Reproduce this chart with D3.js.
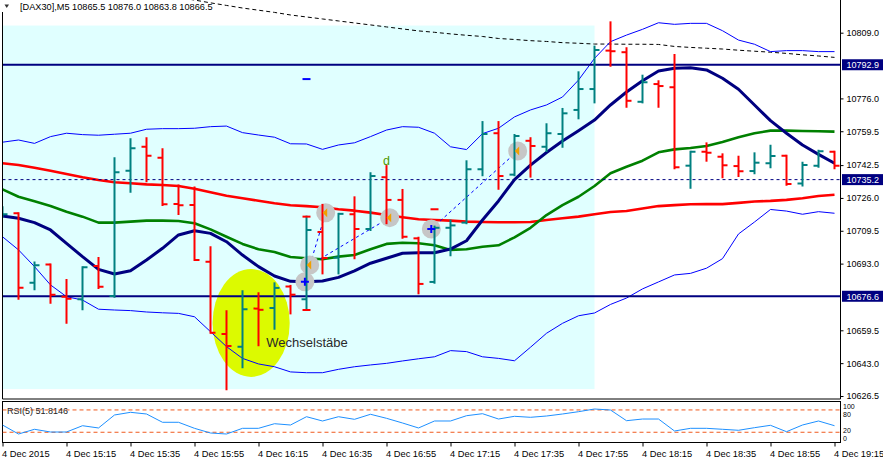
<!DOCTYPE html>
<html><head><meta charset="utf-8">
<script src="https://cdn.jsdelivr.net/npm/d3@7"></script>
<style>
html,body{margin:0;padding:0;background:#fff;}
svg{display:block;}
text{font-family:"Liberation Sans",Arial,sans-serif;}
</style></head><body>
<svg id="chart" width="883" height="461"></svg>
<script>
// ---------- data ----------
const header = "[DAX30],M5  10865.5 10876.0 10863.8 10866.5";
const rsiLabel = "RSI(5) 51.8146";
const timeLabels = ["4 Dec 2015","4 Dec 15:15","4 Dec 15:35","4 Dec 15:55","4 Dec 16:15","4 Dec 16:35","4 Dec 16:55","4 Dec 17:15","4 Dec 17:35","4 Dec 17:55","4 Dec 18:15","4 Dec 18:35","4 Dec 18:55","4 Dec 19:15"];
const timeLabelBars = [0,4,8,12,16,20,24,28,32,36,40,44,48,52];
const priceTicks = [10809.0,10776.0,10759.5,10742.5,10726.0,10709.5,10693.0,10659.5,10643.0,10626.5];
const levelLines = [10792.9,10676.6];
const dashLevel = 10735.2;
const rsiLevels = [80,20];
const rsiTicks = [100,80,20,0];

const open  = [10716.6,10718.3,10683.4,10692.5,10676.4,10675.1,10691.8,10676.7,10739.7,10751.7,10746.2,10723.0,10722.4,10694.0,10657.6,10651.3,10670.4,10670.7,10681.5,10675.1,10708.9,10696.0,10717.8,10710.4,10736.4,10725.0,10705.7,10683.8,10711.0,10713.6,10740.4,10758.5,10737.7,10754.7,10751.7,10758.1,10770.2,10780.7,10800.0,10799.2,10774.3,10783.2,10781.6,10742.2,10749.2,10746.7,10742.0,10739.5,10743.4,10747.2,10733.3,10742.2,10749.2];
const high  = [10721.3,10718.3,10693.5,10692.5,10684.8,10691.2,10695.8,10745.9,10755.5,10756.0,10750.4,10732.3,10731.3,10701.2,10669.1,10679.1,10678.1,10683.1,10681.8,10716.6,10722.5,10718.0,10726.3,10738.4,10742.0,10730.0,10706.0,10711.6,10714.6,10744.4,10764.1,10764.1,10757.6,10756.0,10763.0,10770.7,10789.1,10802.0,10814.2,10801.2,10787.4,10784.6,10797.8,10749.2,10753.4,10747.9,10746.7,10748.4,10752.2,10747.2,10743.7,10749.7,10749.2];
const low   = [10716.6,10675.4,10680.1,10673.4,10663.3,10670.1,10680.8,10676.4,10729.1,10734.4,10722.4,10717.9,10694.8,10658.3,10629.9,10640.9,10652.0,10660.3,10668.0,10670.1,10688.1,10688.1,10695.7,10709.9,10713.3,10706.0,10678.1,10683.4,10697.2,10713.3,10737.4,10730.6,10737.4,10736.7,10749.6,10751.7,10766.0,10774.0,10792.4,10771.8,10774.0,10771.8,10740.9,10731.1,10744.7,10736.4,10737.0,10738.4,10741.4,10732.6,10732.3,10741.7,10740.9];
const close = [10717.8,10680.9,10692.2,10677.4,10675.4,10691.2,10681.4,10738.9,10750.9,10747.2,10722.8,10722.3,10694.8,10658.3,10651.6,10670.1,10669.8,10680.8,10677.4,10709.9,10695.8,10718.0,10710.4,10737.0,10725.0,10706.5,10682.8,10711.0,10712.2,10740.4,10758.1,10737.0,10757.1,10752.1,10758.5,10768.5,10780.7,10800.3,10799.7,10774.8,10784.1,10782.2,10741.4,10749.2,10748.7,10742.4,10739.4,10743.7,10747.1,10733.0,10742.5,10749.4,10742.2];

const bbUpper = [10754.0,10755.1,10753.4,10756.8,10758.5,10757.8,10757.5,10758.0,10758.5,10760.5,10760.8,10760.8,10761.0,10761.8,10762.1,10758.8,10757.6,10756.5,10753.2,10753.1,10750.4,10752.6,10753.7,10756.8,10760.1,10761.8,10761.5,10758.5,10751.7,10750.3,10758.3,10761.0,10766.7,10770.2,10772.7,10776.7,10785.2,10796.1,10804.5,10807.8,10810.7,10814.0,10813.2,10813.7,10813.7,10810.0,10805.3,10803.2,10799.5,10800.0,10800.0,10799.5,10799.5];
const bbLower = [10706.5,10699.9,10691.5,10682.3,10676.4,10674.7,10670.1,10669.7,10669.4,10668.7,10668.3,10668.0,10666.3,10658.8,10651.3,10645.4,10642.6,10641.2,10638.6,10638.2,10638.2,10639.9,10641.2,10642.1,10642.9,10644.1,10645.2,10646.2,10649.3,10648.8,10646.2,10645.4,10644.2,10651.0,10658.0,10663.0,10666.8,10668.2,10672.5,10675.7,10680.3,10683.8,10687.3,10688.1,10690.7,10695.5,10707.9,10713.9,10720.2,10719.4,10717.8,10719.1,10718.3];
const maRed   = [10743.4,10742.5,10741.2,10739.7,10738.0,10736.4,10735.0,10733.9,10733.4,10732.8,10732.5,10732.0,10730.6,10728.8,10727.1,10725.8,10724.6,10723.3,10722.3,10721.9,10721.3,10720.3,10719.6,10718.6,10717.4,10716.3,10715.3,10714.9,10714.6,10714.1,10713.9,10713.8,10713.8,10713.9,10714.9,10715.8,10716.6,10717.8,10718.9,10719.4,10720.7,10721.9,10722.4,10722.8,10722.9,10722.9,10723.5,10724.2,10724.5,10725.0,10725.8,10727.0,10727.6];
const maGreen = [10730.3,10726.6,10724.3,10721.9,10719.1,10716.6,10713.6,10713.6,10714.1,10714.6,10714.6,10714.4,10713.3,10710.2,10706.5,10702.9,10700.2,10698.8,10696.3,10695.7,10695.2,10696.5,10697.3,10700.2,10702.9,10703.5,10703.2,10702.2,10699.9,10700.2,10701.5,10702.2,10706.2,10711.0,10717.4,10722.4,10726.6,10732.0,10738.4,10741.7,10744.7,10748.9,10750.4,10751.1,10752.1,10754.1,10756.5,10758.5,10759.8,10759.8,10759.6,10759.5,10759.3];
const maNavy  = [10716.9,10715.8,10713.6,10709.9,10703.2,10696.5,10690.1,10687.8,10689.4,10694.8,10700.7,10707.4,10709.5,10708.2,10704.0,10697.3,10691.5,10686.8,10684.1,10683.9,10684.3,10686.1,10689.4,10693.2,10695.7,10698.2,10698.5,10698.5,10700.3,10704.5,10714.9,10724.5,10735.2,10742.5,10748.8,10754.6,10759.8,10765.1,10772.7,10779.2,10784.9,10789.8,10791.1,10791.4,10790.3,10786.1,10780.6,10772.7,10764.8,10758.5,10752.6,10747.9,10743.4];
const maSlow  = [null,null,null,null,null,null,null,null,null,null,10828.0,10826.7,10825.4,10824.0,10822.7,10821.4,10820.3,10819.2,10817.9,10816.9,10815.9,10814.9,10813.9,10812.9,10811.9,10810.9,10809.9,10809.2,10808.4,10807.7,10807.1,10806.1,10805.6,10805.0,10804.6,10804.0,10803.7,10803.3,10803.3,10803.2,10803.2,10803.1,10802.1,10801.6,10801.2,10800.8,10800.2,10799.7,10799.2,10798.6,10797.9,10797.3,10796.6];
const rsi = [39.5,15.3,28.0,20.7,20.7,37.6,31.5,66.4,73.6,69.1,46.8,46.8,30.6,18.0,15.3,30.6,30.6,43.0,39.5,61.8,50.3,61.8,54.8,68.3,57.5,44.9,31.5,50.3,50.3,64.5,69.9,55.6,62.9,60.2,63.7,69.1,75.3,82.5,79.8,51.1,55.6,55.6,23.4,30.6,30.6,28.0,25.3,32.3,38.7,21.5,39.5,50.3,37.6];

// objects drawn on the chart (time as bar index, price)
const zoneRect = {t0:-1, t1:37, p0:10630.0, p1:10812.6};
const ellipseZone = {t0:13.13, t1:17.95, p0:10636.1, p1:10690.3};
const noteText = {t:16.49, p:10651.3, label:"Wechselstäbe"};
const dText = {t:24, p:10742.5, label:"d"};
const tradeT = [18.9, 19.2, 20.2, 24.2, 26.8, 32.2];
const tradeP = [10683.9, 10692.3, 10718.6, 10716.1, 10710.4, 10749.6];
const tradeKind = ["buy","exit","exit","exit","buy","exit"];
const tradeLinks = [[0,2],[1,3],[4,5]];
const markT = [19, 19, 27, 19];
const markP = [10716.6, 10669.7, 10720.3, 10785.7];
const markColor = ["#ff0000","#ff0000","#ff0000","#0000ff"];

// ---------- drawing ----------
const svg = d3.select("#chart");
const N = close.length;
const x = d3.scaleLinear().domain([0, 52]).range([2.5, 834.5]);
const y = d3.scaleLinear().domain([10626.5, 10809.0]).range([396.0, 32.7]);
const yr = d3.scaleLinear().domain([0, 100]).range([439.7, 402.5]);
const L = 2.5, R = 840.5, mainBottom = 399, rsiTop = 401.5, rsiBottom = 442.5;

const defs = svg.append("defs");
defs.append("clipPath").attr("id","mainClip").append("rect").attr("x",L).attr("y",0).attr("width",R-L).attr("height",mainBottom);
defs.append("clipPath").attr("id","rsiClip").append("rect").attr("x",L).attr("y",rsiTop).attr("width",R-L).attr("height",rsiBottom-rsiTop);

const main = svg.append("g").attr("clip-path","url(#mainClip)");

main.append("rect")
  .attr("x", x(zoneRect.t0)).attr("y", y(zoneRect.p1))
  .attr("width", x(zoneRect.t1) - x(zoneRect.t0)).attr("height", y(zoneRect.p0) - y(zoneRect.p1))
  .attr("fill", "#e0ffff");

main.append("ellipse")
  .attr("cx", (x(ellipseZone.t0)+x(ellipseZone.t1))/2)
  .attr("cy", (y(ellipseZone.p0)+y(ellipseZone.p1))/2)
  .attr("rx", (x(ellipseZone.t1)-x(ellipseZone.t0))/2)
  .attr("ry", (y(ellipseZone.p0)-y(ellipseZone.p1))/2)
  .attr("fill", "#dcfa00");

const idx = d3.range(N);
function drawLine(arr, color, width, dash) {
  const ln = d3.line().defined(i => arr[i] != null).x(i => x(i)).y(i => y(arr[i]));
  const p = main.append("path").datum(idx).attr("d", ln)
    .attr("fill","none").attr("stroke",color).attr("stroke-width",width).attr("stroke-linejoin","round");
  if (dash) p.attr("stroke-dasharray", dash);
}
drawLine(maSlow, "#000000", 1, "4,3");
drawLine(bbUpper, "#0000ff", 1);
drawLine(bbLower, "#0000ff", 1);
drawLine(maRed, "#ff0000", 2.6);
drawLine(maGreen, "#008000", 2.6);
drawLine(maNavy, "#000080", 3);

// horizontal levels
main.selectAll("line.level").data(levelLines).enter().append("line")
  .attr("x1", L).attr("x2", R).attr("y1", d => y(d)).attr("y2", d => y(d))
  .attr("stroke", "#000080").attr("stroke-width", 2.2);
main.append("line").attr("x1", L).attr("x2", R).attr("y1", y(dashLevel)).attr("y2", y(dashLevel))
  .attr("stroke", "#000080").attr("stroke-width", 1).attr("stroke-dasharray", "3,3");

// trade links
tradeLinks.forEach(([a,b]) => {
  main.append("line").attr("x1", x(tradeT[a])).attr("y1", y(tradeP[a]))
    .attr("x2", x(tradeT[b])).attr("y2", y(tradeP[b]))
    .attr("stroke", "#0000ff").attr("stroke-width", 1).attr("stroke-dasharray", "3,3");
});
// trade circles
tradeT.forEach((t, i) => {
  const cx = x(t), cy = y(tradeP[i]);
  main.append("circle").attr("cx", cx).attr("cy", cy).attr("r", 9.5).attr("fill", "#c6c6c6");
});

// OHLC bars
const bars = main.append("g").attr("stroke-width", 2);
idx.forEach(i => {
  const col = close[i] >= open[i] ? "#008080" : "#ff0000";
  const g = bars.append("g").attr("stroke", col);
  g.append("line").attr("x1", x(i)).attr("x2", x(i)).attr("y1", y(high[i]) - 1).attr("y2", y(low[i]) + 1);
  g.append("line").attr("x1", x(i) - 5).attr("x2", x(i)).attr("y1", y(open[i])).attr("y2", y(open[i]));
  g.append("line").attr("x1", x(i)).attr("x2", x(i) + 5).attr("y1", y(close[i])).attr("y2", y(close[i]));
});

// symbols in circles
tradeT.forEach((t, i) => {
  const cx = x(t), cy = y(tradeP[i]);
  if (tradeKind[i] === "buy") {
    main.append("path").attr("d", `M${cx-4},${cy}h8M${cx},${cy-4}v8`).attr("stroke", "#0000ff").attr("stroke-width", 2);
  } else {
    main.append("path").attr("d", `M${cx+1.5},${cy-4.5}L${cx+1.5},${cy+4.5}L${cx-3},${cy}Z`).attr("fill", "#f0a000");
  }
});
// stop / target marks
markT.forEach((t, i) => {
  main.append("line").attr("x1", x(t) - 4).attr("x2", x(t) + 4).attr("y1", y(markP[i])).attr("y2", y(markP[i]))
    .attr("stroke", markColor[i]).attr("stroke-width", 2);
});

main.append("text").attr("x", x(noteText.t)).attr("y", y(noteText.p))
  .attr("font-size", 13).attr("fill", "#2a2a2a").text(noteText.label);
main.append("text").attr("x", x(dText.t)).attr("y", y(dText.p)).attr("text-anchor","middle")
  .attr("font-size", 12.5).attr("fill", "#4f9a00").text(dText.label);

// frame main
svg.append("path").attr("d", `M${L},12V${mainBottom}H${R}V0`).attr("fill","none").attr("stroke","#000").attr("stroke-width",1);

// header
svg.append("path").attr("d", "M4.5,4.5h4.5l-2.25,3.5z").attr("fill", "#333");
svg.append("text").attr("x", 20).attr("y", 9.5).attr("font-size", 9.2).attr("fill", "#000").text(header);

// price axis
const yAxis = d3.axisRight(y).tickValues(priceTicks).tickSize(3).tickFormat(d3.format(".1f"));
const ya = svg.append("g").attr("transform", `translate(${R},0)`).call(yAxis);
ya.select(".domain").remove();
ya.selectAll("text").attr("x", 6).attr("font-size", 9).attr("font-family", '"Liberation Sans",Arial,sans-serif').attr("fill", "#000");

// level labels
[...levelLines, dashLevel].forEach(v => {
  const g = svg.append("g");
  g.append("rect").attr("x", 842).attr("y", y(v) - 5.5).attr("width", 41).attr("height", 11).attr("fill", "#000080");
  g.append("text").attr("x", 846.5).attr("y", y(v) + 3.3).attr("font-size", 9).attr("fill", "#fff").text(d3.format(".1f")(v));
});

// RSI panel
svg.append("rect").attr("x", L).attr("y", rsiTop).attr("width", R - L).attr("height", rsiBottom - rsiTop)
  .attr("fill", "none").attr("stroke", "#000").attr("stroke-width", 1);
const rg = svg.append("g").attr("clip-path", "url(#rsiClip)");
rsiLevels.forEach(v => {
  rg.append("line").attr("x1", L).attr("x2", R).attr("y1", yr(v)).attr("y2", yr(v))
    .attr("stroke", "#f05a1e").attr("stroke-width", 1).attr("stroke-dasharray", "4,3");
});
rg.append("path").datum(idx).attr("d", d3.line().x(i => x(i)).y(i => yr(rsi[i])))
  .attr("fill", "none").attr("stroke", "#1e90ff").attr("stroke-width", 1);
svg.append("text").attr("x", 7).attr("y", 413.5).attr("font-size", 9).attr("fill", "#222").text(rsiLabel);
const rsiLabelY = {100: 406.2, 80: 414.6, 20: 430.4, 0: 438.8};
rsiTicks.forEach(v => {
  svg.append("text").attr("x", 843).attr("y", rsiLabelY[v] + 2.5).attr("font-size", 7).attr("fill", "#000").text(v);
});

// time axis
const xAxis = d3.axisBottom(x).tickValues(timeLabelBars).tickSize(4)
  .tickFormat((d, i) => timeLabels[i]);
const xa = svg.append("g").attr("transform", `translate(0,${rsiBottom})`).call(xAxis);
xa.select(".domain").remove();
xa.selectAll("text").attr("text-anchor", "start").attr("x", -1).attr("y", 8).attr("dy", "0.71em")
  .attr("font-size", 9.3).attr("font-family", '"Liberation Sans",Arial,sans-serif').attr("fill", "#000");
</script>
</body></html>
